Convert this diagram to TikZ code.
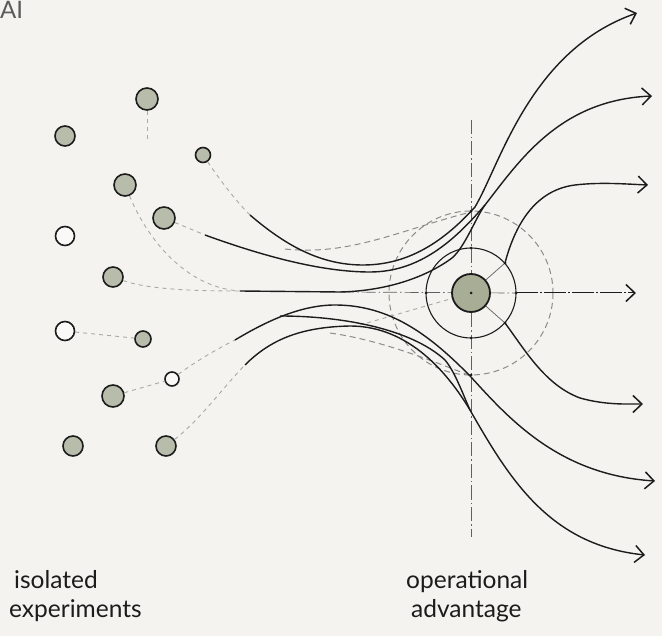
\documentclass[tikz,border=0pt]{standalone}
\usepackage{fontspec}
\setmainfont{Lato}
\usetikzlibrary{arrows.meta}
\definecolor{paper}{RGB}{244,243,239}
\definecolor{dotfill}{RGB}{184,188,170}
\definecolor{hubfill}{RGB}{168,173,150}
\definecolor{ink}{RGB}{28,28,28}
\definecolor{faint}{RGB}{170,170,165}
\definecolor{dashgray}{RGB}{140,140,138}
\definecolor{aigray}{RGB}{90,90,90}
\begin{document}
\begin{tikzpicture}[x=1pt,y=-1pt,
  fdot/.style={circle,draw=ink,line width=1.6pt,fill=dotfill,inner sep=0pt},
  odot/.style={circle,draw=ink,line width=1.6pt,fill=white!50!paper,inner sep=0pt},
  flow/.style={draw=ink,line width=1.4pt},
  faintdash/.style={draw=faint,line width=0.9pt,dash pattern=on 4pt off 4pt},
  guide/.style={draw=dashgray,line width=1pt,dash pattern=on 6pt off 4pt},
  axisline/.style={draw=ink!70,line width=0.7pt,dash pattern=on 14pt off 3pt on 1.5pt off 3pt},
  tip/.style={-{Straight Barb[length=9pt,width=17pt,line width=1.5pt]}},
  knot/.style={circle,fill=ink,inner sep=0pt,minimum size=3pt},
  lbl/.style={font=\fontsize{24.5}{28}\selectfont,text=ink,inner sep=0pt,anchor=base west}]
\useasboundingbox (0,0) rectangle (662,636);
\fill[paper] (0,0) rectangle (662,636);

% ---- dots (isolated experiments)
\node[fdot,minimum size=22pt] (d1) at (147,99) {};
\node[fdot,minimum size=20pt] (d2) at (65,136) {};
\node[fdot,minimum size=15pt] (d3) at (203,155) {};
\node[fdot,minimum size=22pt] (d4) at (125,185) {};
\node[fdot,minimum size=22pt] (d5) at (164,218) {};
\node[odot,minimum size=19pt] (d6) at (65,236) {};
\node[fdot,minimum size=20pt] (d7) at (113,277) {};
\node[odot,minimum size=19pt] (d8) at (65,331) {};
\node[fdot,minimum size=16pt] (d9) at (143,339) {};
\node[odot,minimum size=14pt] (d10) at (172,379) {};
\node[fdot,minimum size=22pt] (d11) at (113,396) {};
\node[fdot,minimum size=20pt] (d12) at (73,446) {};
\node[fdot,minimum size=20pt] (d13) at (166,446) {};

% ---- hub
\coordinate (hc) at (471,293);
\coordinate (e1) at (637,13);
\coordinate (e2) at (652,96);
\coordinate (e3) at (648,185);
\coordinate (e4) at (636,293);
\coordinate (e5) at (643,404);
\coordinate (e6) at (655,481);
\coordinate (e7) at (645,555);

% guides
\draw[guide] (hc) circle[radius=82];
\draw[axisline] (471,120) -- (471,537);
\coordinate (hl) at (340,292);
\coordinate (hr) at (516,293);
\draw[axisline] (hl) -- (hr);
\draw[draw=ink,line width=1pt,dash pattern=on 22pt off 2pt on 2pt off 2pt,tip] (hr) -- (e4);
\draw[guide] (285,249) .. controls (350,256) and (400,230) .. (471,212);
\draw[guide] (330,333) .. controls (380,340) and (430,360) .. (471,376);
\draw[faintdash] (hc) -- (360,325);

% faint dashed links from dots
\coordinate (a0) at (250,215);
\coordinate (b0) at (205,235);
\coordinate (h0) at (240,291);
\coordinate (c0) at (235,340);
\coordinate (g0) at (245,365);
\draw[faintdash] (d1) -- (147,140);
\draw[faintdash] (d3) .. controls (220,180) and (235,200) .. (a0);
\draw[faintdash] (d5) -- (b0);
\draw[faintdash] (d4) .. controls (150,245) and (190,288) .. (h0);
\draw[faintdash] (d7) .. controls (150,290) and (200,291) .. (h0);
\draw[faintdash] (d8) -- (d9);
\draw[faintdash] (d11) -- (d10);
\draw[faintdash] (d10) .. controls (195,362) and (215,350) .. (c0);
\draw[faintdash] (d13) .. controls (200,420) and (225,385) .. (g0);

% ---- flows
\draw[flow,tip] (a0) .. controls (285,245) and (320,265) .. (363,265)
  .. controls (410,265) and (445,240) .. (475,207)
  .. controls (500,165) and (530,50) .. (e1);
\draw[flow,tip] (b0) .. controls (260,255) and (320,272) .. (370,272)
  .. controls (420,272) and (455,240) .. (485,205)
  .. controls (520,160) and (560,100) .. (e2);
\draw[flow] (h0) -- (hl) .. controls (385,291) and (425,278) .. (452,258)
  .. controls (465,247) and (476,217) .. (485,205);
\draw[flow,tip] (c0) .. controls (265,322) and (300,305) .. (335,305)
  .. controls (390,305) and (430,335) .. (471,377)
  .. controls (510,420) and (560,475) .. (e6);
\draw[flow] (280,316) .. controls (340,316) and (410,328) .. (445,360)
  .. controls (455,372) and (462,392) .. (470,410);
\draw[flow,tip] (g0) .. controls (270,340) and (300,327) .. (350,326)
  .. controls (400,326) and (440,360) .. (470,410)
  .. controls (510,480) and (550,545) .. (e7);
% hub spokes
\coordinate (u3) at (505,263);
\coordinate (l3) at (505,323);
\draw[ink!70,line width=0.7pt] (hc) -- (u3);
\draw[ink!70,line width=0.7pt] (hc) -- (l3);
\draw[flow,tip] (u3) .. controls (515,225) and (535,190) .. (575,185)
  .. controls (600,182) and (625,184) .. (e3);
\draw[flow,tip] (l3) .. controls (525,350) and (545,385) .. (580,398)
  .. controls (605,405) and (625,404) .. (e5);

% rings and hub
\draw[ink,line width=1.1pt] (hc) circle[radius=45];
\node[circle,draw=ink,line width=1.8pt,fill=hubfill,minimum size=38pt,inner sep=0pt] (hub) at (hc) {};
\node[knot] at (hub.center) {};
\foreach \p in {(471,248),(471,338),(426,293),(516,293),(471,211),(471,375),(505,263),(505,323)}
  \node[knot] at \p {};

% ---- labels
\node[font=\fontsize{24}{28}\selectfont,text=aigray,anchor=base west,inner sep=0pt] (ai) at (0,19) {AI};
\node[lbl] (t1) at (14,588) {isolated};
\node[lbl] (t2) at (9,617) {experiments};
\node[lbl] (t3) at (406,588) {operational};
\node[lbl] (t4) at (411,617) {advantage};
\end{tikzpicture}
\end{document}
